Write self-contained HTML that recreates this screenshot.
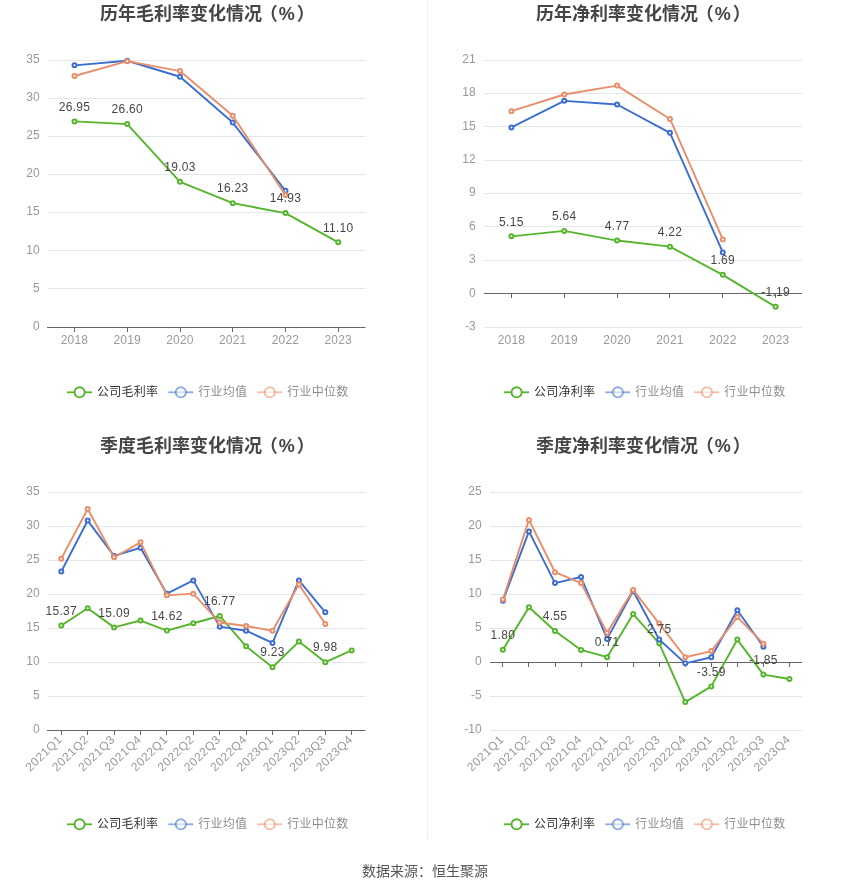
<!DOCTYPE html>
<html lang="zh-CN">
<head>
<meta charset="utf-8">
<title>毛利率与净利率变化情况</title>
<style>
html,body{margin:0;padding:0;background:#fff;}
body{width:850px;height:891px;overflow:hidden;font-family:"Liberation Sans","Noto Sans CJK SC",sans-serif;}
svg{display:block;font-family:"Liberation Sans","Noto Sans CJK SC",sans-serif;}
</style>
</head>
<body>
<svg width="850" height="891" viewBox="0 0 850 891">
<rect width="850" height="891" fill="#ffffff"/>
<line x1="427.5" x2="427.5" y1="0" y2="839" stroke="#f0f0f0" stroke-width="1"/>
<text x="207.4" y="20" text-anchor="middle" font-size="18" font-weight="bold" fill="#464646">历年毛利率变化情况<tspan dx="-2.2">（</tspan><tspan dx="0.9">%</tspan><tspan dx="2.1">）</tspan></text>
<text x="39.7" y="329.9" text-anchor="end" font-size="12" fill="#999999">0</text>
<line x1="48" x2="365.5" y1="288.5" y2="288.5" stroke="#e4e6e9" stroke-width="1"/>
<text x="39.7" y="291.76" text-anchor="end" font-size="12" fill="#999999">5</text>
<line x1="48" x2="365.5" y1="250.5" y2="250.5" stroke="#e4e6e9" stroke-width="1"/>
<text x="39.7" y="253.61" text-anchor="end" font-size="12" fill="#999999">10</text>
<line x1="48" x2="365.5" y1="212.5" y2="212.5" stroke="#e4e6e9" stroke-width="1"/>
<text x="39.7" y="215.47" text-anchor="end" font-size="12" fill="#999999">15</text>
<line x1="48" x2="365.5" y1="174.5" y2="174.5" stroke="#e4e6e9" stroke-width="1"/>
<text x="39.7" y="177.33" text-anchor="end" font-size="12" fill="#999999">20</text>
<line x1="48" x2="365.5" y1="136.5" y2="136.5" stroke="#e4e6e9" stroke-width="1"/>
<text x="39.7" y="139.19" text-anchor="end" font-size="12" fill="#999999">25</text>
<line x1="48" x2="365.5" y1="98.5" y2="98.5" stroke="#e4e6e9" stroke-width="1"/>
<text x="39.7" y="101.04" text-anchor="end" font-size="12" fill="#999999">30</text>
<line x1="48" x2="365.5" y1="60.5" y2="60.5" stroke="#e4e6e9" stroke-width="1"/>
<text x="39.7" y="62.9" text-anchor="end" font-size="12" fill="#999999">35</text>
<line x1="47" x2="365.5" y1="327.5" y2="327.5" stroke="#666666" stroke-width="1"/>
<line x1="74.5" x2="74.5" y1="327.5" y2="332" stroke="#666666" stroke-width="1"/>
<line x1="127.5" x2="127.5" y1="327.5" y2="332" stroke="#666666" stroke-width="1"/>
<line x1="180.5" x2="180.5" y1="327.5" y2="332" stroke="#666666" stroke-width="1"/>
<line x1="232.5" x2="232.5" y1="327.5" y2="332" stroke="#666666" stroke-width="1"/>
<line x1="285.5" x2="285.5" y1="327.5" y2="332" stroke="#666666" stroke-width="1"/>
<line x1="338.5" x2="338.5" y1="327.5" y2="332" stroke="#666666" stroke-width="1"/>
<text x="74.5" y="343.7" text-anchor="middle" font-size="12" letter-spacing="0.2" fill="#999999">2018</text>
<text x="127.25" y="343.7" text-anchor="middle" font-size="12" letter-spacing="0.2" fill="#999999">2019</text>
<text x="180" y="343.7" text-anchor="middle" font-size="12" letter-spacing="0.2" fill="#999999">2020</text>
<text x="232.75" y="343.7" text-anchor="middle" font-size="12" letter-spacing="0.2" fill="#999999">2021</text>
<text x="285.5" y="343.7" text-anchor="middle" font-size="12" letter-spacing="0.2" fill="#999999">2022</text>
<text x="338.25" y="343.7" text-anchor="middle" font-size="12" letter-spacing="0.2" fill="#999999">2023</text>
<polyline fill="none" stroke="#56b52d" stroke-width="1.9" stroke-linejoin="bevel" points="74.5,121.41 127.25,124.08 180,181.83 232.75,203.19 285.5,213.11 338.25,242.32"/>
<circle cx="74.5" cy="121.41" r="2" fill="#fff" stroke="#56b52d" stroke-width="2"/>
<circle cx="127.25" cy="124.08" r="2" fill="#fff" stroke="#56b52d" stroke-width="2"/>
<circle cx="180" cy="181.83" r="2" fill="#fff" stroke="#56b52d" stroke-width="2"/>
<circle cx="232.75" cy="203.19" r="2" fill="#fff" stroke="#56b52d" stroke-width="2"/>
<circle cx="285.5" cy="213.11" r="2" fill="#fff" stroke="#56b52d" stroke-width="2"/>
<circle cx="338.25" cy="242.32" r="2" fill="#fff" stroke="#56b52d" stroke-width="2"/>
<polyline fill="none" stroke="#3d6ecd" stroke-width="1.9" stroke-linejoin="bevel" points="74.5,65.34 127.25,60.76 180,76.78 232.75,122.55 285.5,190.83"/>
<circle cx="74.5" cy="65.34" r="2" fill="#fff" stroke="#3d6ecd" stroke-width="2"/>
<circle cx="127.25" cy="60.76" r="2" fill="#fff" stroke="#3d6ecd" stroke-width="2"/>
<circle cx="180" cy="76.78" r="2" fill="#fff" stroke="#3d6ecd" stroke-width="2"/>
<circle cx="232.75" cy="122.55" r="2" fill="#fff" stroke="#3d6ecd" stroke-width="2"/>
<circle cx="285.5" cy="190.83" r="2" fill="#fff" stroke="#3d6ecd" stroke-width="2"/>
<polyline fill="none" stroke="#e88e6a" stroke-width="1.9" stroke-linejoin="bevel" points="74.5,76.02 127.25,61.14 180,71.06 232.75,115.69 285.5,195.03"/>
<circle cx="74.5" cy="76.02" r="2" fill="#fff" stroke="#e88e6a" stroke-width="2"/>
<circle cx="127.25" cy="61.14" r="2" fill="#fff" stroke="#e88e6a" stroke-width="2"/>
<circle cx="180" cy="71.06" r="2" fill="#fff" stroke="#e88e6a" stroke-width="2"/>
<circle cx="232.75" cy="115.69" r="2" fill="#fff" stroke="#e88e6a" stroke-width="2"/>
<circle cx="285.5" cy="195.03" r="2" fill="#fff" stroke="#e88e6a" stroke-width="2"/>
<text x="74.5" y="110.61" text-anchor="middle" font-size="12" letter-spacing="0.3" fill="#464646">26.95</text>
<text x="127.25" y="113.28" text-anchor="middle" font-size="12" letter-spacing="0.3" fill="#464646">26.60</text>
<text x="180" y="171.03" text-anchor="middle" font-size="12" letter-spacing="0.3" fill="#464646">19.03</text>
<text x="232.75" y="192.39" text-anchor="middle" font-size="12" letter-spacing="0.3" fill="#464646">16.23</text>
<text x="285.5" y="202.31" text-anchor="middle" font-size="12" letter-spacing="0.3" fill="#464646">14.93</text>
<text x="338.25" y="231.52" text-anchor="middle" font-size="12" letter-spacing="0.3" fill="#464646">11.10</text>
<g><line x1="67" x2="92" y1="392.3" y2="392.3" stroke="#56b52d" stroke-opacity="1" stroke-width="1.8"/><circle cx="79.6" cy="392.3" r="5.1" fill="#fff" fill-opacity="1" stroke="#56b52d" stroke-opacity="1" stroke-width="1.9"/></g>
<text x="97" y="395.7" font-size="12" letter-spacing="0.25" fill="#333333">公司毛利率</text>
<g><line x1="168.25" x2="193.25" y1="392.3" y2="392.3" stroke="#3d6ecd" stroke-opacity="0.58" stroke-width="1.8"/><circle cx="180.85" cy="392.3" r="5.1" fill="#fff" fill-opacity="0.58" stroke="#3d6ecd" stroke-opacity="0.58" stroke-width="1.9"/></g>
<text x="198.25" y="395.7" font-size="12" letter-spacing="0.25" fill="#8e8e8e">行业均值</text>
<g><line x1="257.25" x2="282.25" y1="392.3" y2="392.3" stroke="#e88e6a" stroke-opacity="0.58" stroke-width="1.8"/><circle cx="269.85" cy="392.3" r="5.1" fill="#fff" fill-opacity="0.58" stroke="#e88e6a" stroke-opacity="0.58" stroke-width="1.9"/></g>
<text x="287.25" y="395.7" font-size="12" letter-spacing="0.25" fill="#8e8e8e">行业中位数</text>
<text x="643.4" y="20" text-anchor="middle" font-size="18" font-weight="bold" fill="#464646">历年净利率变化情况<tspan dx="-2.2">（</tspan><tspan dx="0.9">%</tspan><tspan dx="2.1">）</tspan></text>
<line x1="484" x2="802" y1="327.5" y2="327.5" stroke="#e4e6e9" stroke-width="1"/>
<text x="475.7" y="329.9" text-anchor="end" font-size="12" fill="#999999">-3</text>
<text x="475.7" y="296.52" text-anchor="end" font-size="12" fill="#999999">0</text>
<line x1="484" x2="802" y1="260.5" y2="260.5" stroke="#e4e6e9" stroke-width="1"/>
<text x="475.7" y="263.15" text-anchor="end" font-size="12" fill="#999999">3</text>
<line x1="484" x2="802" y1="226.5" y2="226.5" stroke="#e4e6e9" stroke-width="1"/>
<text x="475.7" y="229.78" text-anchor="end" font-size="12" fill="#999999">6</text>
<line x1="484" x2="802" y1="193.5" y2="193.5" stroke="#e4e6e9" stroke-width="1"/>
<text x="475.7" y="196.4" text-anchor="end" font-size="12" fill="#999999">9</text>
<line x1="484" x2="802" y1="160.5" y2="160.5" stroke="#e4e6e9" stroke-width="1"/>
<text x="475.7" y="163.03" text-anchor="end" font-size="12" fill="#999999">12</text>
<line x1="484" x2="802" y1="126.5" y2="126.5" stroke="#e4e6e9" stroke-width="1"/>
<text x="475.7" y="129.65" text-anchor="end" font-size="12" fill="#999999">15</text>
<line x1="484" x2="802" y1="93.5" y2="93.5" stroke="#e4e6e9" stroke-width="1"/>
<text x="475.7" y="96.28" text-anchor="end" font-size="12" fill="#999999">18</text>
<line x1="484" x2="802" y1="60.5" y2="60.5" stroke="#e4e6e9" stroke-width="1"/>
<text x="475.7" y="62.9" text-anchor="end" font-size="12" fill="#999999">21</text>
<line x1="484" x2="802" y1="293.5" y2="293.5" stroke="#666666" stroke-width="1"/>
<line x1="511.5" x2="511.5" y1="293.5" y2="298" stroke="#666666" stroke-width="1"/>
<line x1="564.5" x2="564.5" y1="293.5" y2="298" stroke="#666666" stroke-width="1"/>
<line x1="617.5" x2="617.5" y1="293.5" y2="298" stroke="#666666" stroke-width="1"/>
<line x1="669.5" x2="669.5" y1="293.5" y2="298" stroke="#666666" stroke-width="1"/>
<line x1="722.5" x2="722.5" y1="293.5" y2="298" stroke="#666666" stroke-width="1"/>
<line x1="775.5" x2="775.5" y1="293.5" y2="298" stroke="#666666" stroke-width="1"/>
<text x="511.4" y="343.7" text-anchor="middle" font-size="12" letter-spacing="0.2" fill="#999999">2018</text>
<text x="564.25" y="343.7" text-anchor="middle" font-size="12" letter-spacing="0.2" fill="#999999">2019</text>
<text x="617.1" y="343.7" text-anchor="middle" font-size="12" letter-spacing="0.2" fill="#999999">2020</text>
<text x="669.95" y="343.7" text-anchor="middle" font-size="12" letter-spacing="0.2" fill="#999999">2021</text>
<text x="722.8" y="343.7" text-anchor="middle" font-size="12" letter-spacing="0.2" fill="#999999">2022</text>
<text x="775.65" y="343.7" text-anchor="middle" font-size="12" letter-spacing="0.2" fill="#999999">2023</text>
<polyline fill="none" stroke="#56b52d" stroke-width="1.9" stroke-linejoin="bevel" points="511.4,236.33 564.25,230.88 617.1,240.56 669.95,246.68 722.8,274.82 775.65,306.86"/>
<circle cx="511.4" cy="236.33" r="2" fill="#fff" stroke="#56b52d" stroke-width="2"/>
<circle cx="564.25" cy="230.88" r="2" fill="#fff" stroke="#56b52d" stroke-width="2"/>
<circle cx="617.1" cy="240.56" r="2" fill="#fff" stroke="#56b52d" stroke-width="2"/>
<circle cx="669.95" cy="246.68" r="2" fill="#fff" stroke="#56b52d" stroke-width="2"/>
<circle cx="722.8" cy="274.82" r="2" fill="#fff" stroke="#56b52d" stroke-width="2"/>
<circle cx="775.65" cy="306.86" r="2" fill="#fff" stroke="#56b52d" stroke-width="2"/>
<polyline fill="none" stroke="#3d6ecd" stroke-width="1.9" stroke-linejoin="bevel" points="511.4,127.42 564.25,100.83 617.1,104.5 669.95,132.87 722.8,252.46"/>
<circle cx="511.4" cy="127.42" r="2" fill="#fff" stroke="#3d6ecd" stroke-width="2"/>
<circle cx="564.25" cy="100.83" r="2" fill="#fff" stroke="#3d6ecd" stroke-width="2"/>
<circle cx="617.1" cy="104.5" r="2" fill="#fff" stroke="#3d6ecd" stroke-width="2"/>
<circle cx="669.95" cy="132.87" r="2" fill="#fff" stroke="#3d6ecd" stroke-width="2"/>
<circle cx="722.8" cy="252.46" r="2" fill="#fff" stroke="#3d6ecd" stroke-width="2"/>
<polyline fill="none" stroke="#e88e6a" stroke-width="1.9" stroke-linejoin="bevel" points="511.4,111.18 564.25,94.49 617.1,85.59 669.95,118.96 722.8,239.45"/>
<circle cx="511.4" cy="111.18" r="2" fill="#fff" stroke="#e88e6a" stroke-width="2"/>
<circle cx="564.25" cy="94.49" r="2" fill="#fff" stroke="#e88e6a" stroke-width="2"/>
<circle cx="617.1" cy="85.59" r="2" fill="#fff" stroke="#e88e6a" stroke-width="2"/>
<circle cx="669.95" cy="118.96" r="2" fill="#fff" stroke="#e88e6a" stroke-width="2"/>
<circle cx="722.8" cy="239.45" r="2" fill="#fff" stroke="#e88e6a" stroke-width="2"/>
<text x="511.4" y="225.53" text-anchor="middle" font-size="12" letter-spacing="0.3" fill="#464646">5.15</text>
<text x="564.25" y="220.08" text-anchor="middle" font-size="12" letter-spacing="0.3" fill="#464646">5.64</text>
<text x="617.1" y="229.76" text-anchor="middle" font-size="12" letter-spacing="0.3" fill="#464646">4.77</text>
<text x="669.95" y="235.88" text-anchor="middle" font-size="12" letter-spacing="0.3" fill="#464646">4.22</text>
<text x="722.8" y="264.02" text-anchor="middle" font-size="12" letter-spacing="0.3" fill="#464646">1.69</text>
<text x="775.65" y="296.06" text-anchor="middle" font-size="12" letter-spacing="0.3" fill="#464646">-1.19</text>
<g><line x1="504" x2="529" y1="392.3" y2="392.3" stroke="#56b52d" stroke-opacity="1" stroke-width="1.8"/><circle cx="516.6" cy="392.3" r="5.1" fill="#fff" fill-opacity="1" stroke="#56b52d" stroke-opacity="1" stroke-width="1.9"/></g>
<text x="534" y="395.7" font-size="12" letter-spacing="0.25" fill="#333333">公司净利率</text>
<g><line x1="605.25" x2="630.25" y1="392.3" y2="392.3" stroke="#3d6ecd" stroke-opacity="0.58" stroke-width="1.8"/><circle cx="617.85" cy="392.3" r="5.1" fill="#fff" fill-opacity="0.58" stroke="#3d6ecd" stroke-opacity="0.58" stroke-width="1.9"/></g>
<text x="635.25" y="395.7" font-size="12" letter-spacing="0.25" fill="#8e8e8e">行业均值</text>
<g><line x1="694.25" x2="719.25" y1="392.3" y2="392.3" stroke="#e88e6a" stroke-opacity="0.58" stroke-width="1.8"/><circle cx="706.85" cy="392.3" r="5.1" fill="#fff" fill-opacity="0.58" stroke="#e88e6a" stroke-opacity="0.58" stroke-width="1.9"/></g>
<text x="724.25" y="395.7" font-size="12" letter-spacing="0.25" fill="#8e8e8e">行业中位数</text>
<text x="207.4" y="452" text-anchor="middle" font-size="18" font-weight="bold" fill="#464646">季度毛利率变化情况<tspan dx="-2.2">（</tspan><tspan dx="0.9">%</tspan><tspan dx="2.1">）</tspan></text>
<text x="39.7" y="732.9" text-anchor="end" font-size="12" fill="#999999">0</text>
<line x1="48" x2="365.4" y1="696.5" y2="696.5" stroke="#e4e6e9" stroke-width="1"/>
<text x="39.7" y="698.9" text-anchor="end" font-size="12" fill="#999999">5</text>
<line x1="48" x2="365.4" y1="662.5" y2="662.5" stroke="#e4e6e9" stroke-width="1"/>
<text x="39.7" y="664.9" text-anchor="end" font-size="12" fill="#999999">10</text>
<line x1="48" x2="365.4" y1="628.5" y2="628.5" stroke="#e4e6e9" stroke-width="1"/>
<text x="39.7" y="630.9" text-anchor="end" font-size="12" fill="#999999">15</text>
<line x1="48" x2="365.4" y1="594.5" y2="594.5" stroke="#e4e6e9" stroke-width="1"/>
<text x="39.7" y="596.9" text-anchor="end" font-size="12" fill="#999999">20</text>
<line x1="48" x2="365.4" y1="560.5" y2="560.5" stroke="#e4e6e9" stroke-width="1"/>
<text x="39.7" y="562.9" text-anchor="end" font-size="12" fill="#999999">25</text>
<line x1="48" x2="365.4" y1="526.5" y2="526.5" stroke="#e4e6e9" stroke-width="1"/>
<text x="39.7" y="528.9" text-anchor="end" font-size="12" fill="#999999">30</text>
<line x1="48" x2="365.4" y1="492.5" y2="492.5" stroke="#e4e6e9" stroke-width="1"/>
<text x="39.7" y="494.9" text-anchor="end" font-size="12" fill="#999999">35</text>
<line x1="47" x2="365.4" y1="730.5" y2="730.5" stroke="#666666" stroke-width="1"/>
<line x1="61.5" x2="61.5" y1="730.5" y2="735" stroke="#666666" stroke-width="1"/>
<line x1="87.5" x2="87.5" y1="730.5" y2="735" stroke="#666666" stroke-width="1"/>
<line x1="114.5" x2="114.5" y1="730.5" y2="735" stroke="#666666" stroke-width="1"/>
<line x1="140.5" x2="140.5" y1="730.5" y2="735" stroke="#666666" stroke-width="1"/>
<line x1="166.5" x2="166.5" y1="730.5" y2="735" stroke="#666666" stroke-width="1"/>
<line x1="193.5" x2="193.5" y1="730.5" y2="735" stroke="#666666" stroke-width="1"/>
<line x1="219.5" x2="219.5" y1="730.5" y2="735" stroke="#666666" stroke-width="1"/>
<line x1="246.5" x2="246.5" y1="730.5" y2="735" stroke="#666666" stroke-width="1"/>
<line x1="272.5" x2="272.5" y1="730.5" y2="735" stroke="#666666" stroke-width="1"/>
<line x1="298.5" x2="298.5" y1="730.5" y2="735" stroke="#666666" stroke-width="1"/>
<line x1="325.5" x2="325.5" y1="730.5" y2="735" stroke="#666666" stroke-width="1"/>
<line x1="351.5" x2="351.5" y1="730.5" y2="735" stroke="#666666" stroke-width="1"/>
<text transform="translate(59.6,737.6) rotate(-44)" text-anchor="end" y="4.3" textLength="45" lengthAdjust="spacing" font-size="12" fill="#999999">2021Q1</text>
<text transform="translate(86,737.6) rotate(-44)" text-anchor="end" y="4.3" textLength="45" lengthAdjust="spacing" font-size="12" fill="#999999">2021Q2</text>
<text transform="translate(112.4,737.6) rotate(-44)" text-anchor="end" y="4.3" textLength="45" lengthAdjust="spacing" font-size="12" fill="#999999">2021Q3</text>
<text transform="translate(138.8,737.6) rotate(-44)" text-anchor="end" y="4.3" textLength="45" lengthAdjust="spacing" font-size="12" fill="#999999">2021Q4</text>
<text transform="translate(165.2,737.6) rotate(-44)" text-anchor="end" y="4.3" textLength="45" lengthAdjust="spacing" font-size="12" fill="#999999">2022Q1</text>
<text transform="translate(191.6,737.6) rotate(-44)" text-anchor="end" y="4.3" textLength="45" lengthAdjust="spacing" font-size="12" fill="#999999">2022Q2</text>
<text transform="translate(218,737.6) rotate(-44)" text-anchor="end" y="4.3" textLength="45" lengthAdjust="spacing" font-size="12" fill="#999999">2022Q3</text>
<text transform="translate(244.4,737.6) rotate(-44)" text-anchor="end" y="4.3" textLength="45" lengthAdjust="spacing" font-size="12" fill="#999999">2022Q4</text>
<text transform="translate(270.8,737.6) rotate(-44)" text-anchor="end" y="4.3" textLength="45" lengthAdjust="spacing" font-size="12" fill="#999999">2023Q1</text>
<text transform="translate(297.2,737.6) rotate(-44)" text-anchor="end" y="4.3" textLength="45" lengthAdjust="spacing" font-size="12" fill="#999999">2023Q2</text>
<text transform="translate(323.6,737.6) rotate(-44)" text-anchor="end" y="4.3" textLength="45" lengthAdjust="spacing" font-size="12" fill="#999999">2023Q3</text>
<text transform="translate(350,737.6) rotate(-44)" text-anchor="end" y="4.3" textLength="45" lengthAdjust="spacing" font-size="12" fill="#999999">2023Q4</text>
<polyline fill="none" stroke="#56b52d" stroke-width="1.9" stroke-linejoin="bevel" points="61.3,625.48 87.7,608.28 114.1,627.39 140.5,620.52 166.9,630.58 193.3,623.24 219.7,615.96 246.1,646.36 272.5,667.24 298.9,641.6 325.3,662.14 351.7,650.44"/>
<circle cx="61.3" cy="625.48" r="2" fill="#fff" stroke="#56b52d" stroke-width="2"/>
<circle cx="87.7" cy="608.28" r="2" fill="#fff" stroke="#56b52d" stroke-width="2"/>
<circle cx="114.1" cy="627.39" r="2" fill="#fff" stroke="#56b52d" stroke-width="2"/>
<circle cx="140.5" cy="620.52" r="2" fill="#fff" stroke="#56b52d" stroke-width="2"/>
<circle cx="166.9" cy="630.58" r="2" fill="#fff" stroke="#56b52d" stroke-width="2"/>
<circle cx="193.3" cy="623.24" r="2" fill="#fff" stroke="#56b52d" stroke-width="2"/>
<circle cx="219.7" cy="615.96" r="2" fill="#fff" stroke="#56b52d" stroke-width="2"/>
<circle cx="246.1" cy="646.36" r="2" fill="#fff" stroke="#56b52d" stroke-width="2"/>
<circle cx="272.5" cy="667.24" r="2" fill="#fff" stroke="#56b52d" stroke-width="2"/>
<circle cx="298.9" cy="641.6" r="2" fill="#fff" stroke="#56b52d" stroke-width="2"/>
<circle cx="325.3" cy="662.14" r="2" fill="#fff" stroke="#56b52d" stroke-width="2"/>
<circle cx="351.7" cy="650.44" r="2" fill="#fff" stroke="#56b52d" stroke-width="2"/>
<polyline fill="none" stroke="#3d6ecd" stroke-width="1.9" stroke-linejoin="bevel" points="61.3,571.56 87.7,520.56 114.1,555.92 140.5,547.76 166.9,593.66 193.3,580.4 219.7,626.64 246.1,630.72 272.5,642.96 298.9,580.4 325.3,612.36"/>
<circle cx="61.3" cy="571.56" r="2" fill="#fff" stroke="#3d6ecd" stroke-width="2"/>
<circle cx="87.7" cy="520.56" r="2" fill="#fff" stroke="#3d6ecd" stroke-width="2"/>
<circle cx="114.1" cy="555.92" r="2" fill="#fff" stroke="#3d6ecd" stroke-width="2"/>
<circle cx="140.5" cy="547.76" r="2" fill="#fff" stroke="#3d6ecd" stroke-width="2"/>
<circle cx="166.9" cy="593.66" r="2" fill="#fff" stroke="#3d6ecd" stroke-width="2"/>
<circle cx="193.3" cy="580.4" r="2" fill="#fff" stroke="#3d6ecd" stroke-width="2"/>
<circle cx="219.7" cy="626.64" r="2" fill="#fff" stroke="#3d6ecd" stroke-width="2"/>
<circle cx="246.1" cy="630.72" r="2" fill="#fff" stroke="#3d6ecd" stroke-width="2"/>
<circle cx="272.5" cy="642.96" r="2" fill="#fff" stroke="#3d6ecd" stroke-width="2"/>
<circle cx="298.9" cy="580.4" r="2" fill="#fff" stroke="#3d6ecd" stroke-width="2"/>
<circle cx="325.3" cy="612.36" r="2" fill="#fff" stroke="#3d6ecd" stroke-width="2"/>
<polyline fill="none" stroke="#e88e6a" stroke-width="1.9" stroke-linejoin="bevel" points="61.3,558.64 87.7,509 114.1,557.28 140.5,542.32 166.9,595.36 193.3,593.66 219.7,622.56 246.1,625.96 272.5,630.72 298.9,584.48 325.3,623.92"/>
<circle cx="61.3" cy="558.64" r="2" fill="#fff" stroke="#e88e6a" stroke-width="2"/>
<circle cx="87.7" cy="509" r="2" fill="#fff" stroke="#e88e6a" stroke-width="2"/>
<circle cx="114.1" cy="557.28" r="2" fill="#fff" stroke="#e88e6a" stroke-width="2"/>
<circle cx="140.5" cy="542.32" r="2" fill="#fff" stroke="#e88e6a" stroke-width="2"/>
<circle cx="166.9" cy="595.36" r="2" fill="#fff" stroke="#e88e6a" stroke-width="2"/>
<circle cx="193.3" cy="593.66" r="2" fill="#fff" stroke="#e88e6a" stroke-width="2"/>
<circle cx="219.7" cy="622.56" r="2" fill="#fff" stroke="#e88e6a" stroke-width="2"/>
<circle cx="246.1" cy="625.96" r="2" fill="#fff" stroke="#e88e6a" stroke-width="2"/>
<circle cx="272.5" cy="630.72" r="2" fill="#fff" stroke="#e88e6a" stroke-width="2"/>
<circle cx="298.9" cy="584.48" r="2" fill="#fff" stroke="#e88e6a" stroke-width="2"/>
<circle cx="325.3" cy="623.92" r="2" fill="#fff" stroke="#e88e6a" stroke-width="2"/>
<text x="61.3" y="614.68" text-anchor="middle" font-size="12" letter-spacing="0.3" fill="#464646">15.37</text>
<text x="114.1" y="616.59" text-anchor="middle" font-size="12" letter-spacing="0.3" fill="#464646">15.09</text>
<text x="166.9" y="619.78" text-anchor="middle" font-size="12" letter-spacing="0.3" fill="#464646">14.62</text>
<text x="219.7" y="605.16" text-anchor="middle" font-size="12" letter-spacing="0.3" fill="#464646">16.77</text>
<text x="272.5" y="656.44" text-anchor="middle" font-size="12" letter-spacing="0.3" fill="#464646">9.23</text>
<text x="325.3" y="651.34" text-anchor="middle" font-size="12" letter-spacing="0.3" fill="#464646">9.98</text>
<g><line x1="67" x2="92" y1="824.3" y2="824.3" stroke="#56b52d" stroke-opacity="1" stroke-width="1.8"/><circle cx="79.6" cy="824.3" r="5.1" fill="#fff" fill-opacity="1" stroke="#56b52d" stroke-opacity="1" stroke-width="1.9"/></g>
<text x="97" y="827.7" font-size="12" letter-spacing="0.25" fill="#333333">公司毛利率</text>
<g><line x1="168.25" x2="193.25" y1="824.3" y2="824.3" stroke="#3d6ecd" stroke-opacity="0.58" stroke-width="1.8"/><circle cx="180.85" cy="824.3" r="5.1" fill="#fff" fill-opacity="0.58" stroke="#3d6ecd" stroke-opacity="0.58" stroke-width="1.9"/></g>
<text x="198.25" y="827.7" font-size="12" letter-spacing="0.25" fill="#8e8e8e">行业均值</text>
<g><line x1="257.25" x2="282.25" y1="824.3" y2="824.3" stroke="#e88e6a" stroke-opacity="0.58" stroke-width="1.8"/><circle cx="269.85" cy="824.3" r="5.1" fill="#fff" fill-opacity="0.58" stroke="#e88e6a" stroke-opacity="0.58" stroke-width="1.9"/></g>
<text x="287.25" y="827.7" font-size="12" letter-spacing="0.25" fill="#8e8e8e">行业中位数</text>
<text x="643.4" y="452" text-anchor="middle" font-size="18" font-weight="bold" fill="#464646">季度净利率变化情况<tspan dx="-2.2">（</tspan><tspan dx="0.9">%</tspan><tspan dx="2.1">）</tspan></text>
<line x1="490" x2="802.3" y1="730.5" y2="730.5" stroke="#e4e6e9" stroke-width="1"/>
<text x="481.7" y="732.9" text-anchor="end" font-size="12" fill="#999999">-10</text>
<line x1="490" x2="802.3" y1="696.5" y2="696.5" stroke="#e4e6e9" stroke-width="1"/>
<text x="481.7" y="698.9" text-anchor="end" font-size="12" fill="#999999">-5</text>
<text x="481.7" y="664.9" text-anchor="end" font-size="12" fill="#999999">0</text>
<line x1="490" x2="802.3" y1="628.5" y2="628.5" stroke="#e4e6e9" stroke-width="1"/>
<text x="481.7" y="630.9" text-anchor="end" font-size="12" fill="#999999">5</text>
<line x1="490" x2="802.3" y1="594.5" y2="594.5" stroke="#e4e6e9" stroke-width="1"/>
<text x="481.7" y="596.9" text-anchor="end" font-size="12" fill="#999999">10</text>
<line x1="490" x2="802.3" y1="560.5" y2="560.5" stroke="#e4e6e9" stroke-width="1"/>
<text x="481.7" y="562.9" text-anchor="end" font-size="12" fill="#999999">15</text>
<line x1="490" x2="802.3" y1="526.5" y2="526.5" stroke="#e4e6e9" stroke-width="1"/>
<text x="481.7" y="528.9" text-anchor="end" font-size="12" fill="#999999">20</text>
<line x1="490" x2="802.3" y1="492.5" y2="492.5" stroke="#e4e6e9" stroke-width="1"/>
<text x="481.7" y="494.9" text-anchor="end" font-size="12" fill="#999999">25</text>
<line x1="490" x2="802.3" y1="662.5" y2="662.5" stroke="#666666" stroke-width="1"/>
<line x1="502.5" x2="502.5" y1="662.5" y2="667" stroke="#666666" stroke-width="1"/>
<line x1="528.5" x2="528.5" y1="662.5" y2="667" stroke="#666666" stroke-width="1"/>
<line x1="555.5" x2="555.5" y1="662.5" y2="667" stroke="#666666" stroke-width="1"/>
<line x1="581.5" x2="581.5" y1="662.5" y2="667" stroke="#666666" stroke-width="1"/>
<line x1="607.5" x2="607.5" y1="662.5" y2="667" stroke="#666666" stroke-width="1"/>
<line x1="633.5" x2="633.5" y1="662.5" y2="667" stroke="#666666" stroke-width="1"/>
<line x1="659.5" x2="659.5" y1="662.5" y2="667" stroke="#666666" stroke-width="1"/>
<line x1="685.5" x2="685.5" y1="662.5" y2="667" stroke="#666666" stroke-width="1"/>
<line x1="711.5" x2="711.5" y1="662.5" y2="667" stroke="#666666" stroke-width="1"/>
<line x1="737.5" x2="737.5" y1="662.5" y2="667" stroke="#666666" stroke-width="1"/>
<line x1="763.5" x2="763.5" y1="662.5" y2="667" stroke="#666666" stroke-width="1"/>
<line x1="789.5" x2="789.5" y1="662.5" y2="667" stroke="#666666" stroke-width="1"/>
<text transform="translate(501.2,737.6) rotate(-44)" text-anchor="end" y="4.3" textLength="45" lengthAdjust="spacing" font-size="12" fill="#999999">2021Q1</text>
<text transform="translate(527.25,737.6) rotate(-44)" text-anchor="end" y="4.3" textLength="45" lengthAdjust="spacing" font-size="12" fill="#999999">2021Q2</text>
<text transform="translate(553.3,737.6) rotate(-44)" text-anchor="end" y="4.3" textLength="45" lengthAdjust="spacing" font-size="12" fill="#999999">2021Q3</text>
<text transform="translate(579.35,737.6) rotate(-44)" text-anchor="end" y="4.3" textLength="45" lengthAdjust="spacing" font-size="12" fill="#999999">2021Q4</text>
<text transform="translate(605.4,737.6) rotate(-44)" text-anchor="end" y="4.3" textLength="45" lengthAdjust="spacing" font-size="12" fill="#999999">2022Q1</text>
<text transform="translate(631.45,737.6) rotate(-44)" text-anchor="end" y="4.3" textLength="45" lengthAdjust="spacing" font-size="12" fill="#999999">2022Q2</text>
<text transform="translate(657.5,737.6) rotate(-44)" text-anchor="end" y="4.3" textLength="45" lengthAdjust="spacing" font-size="12" fill="#999999">2022Q3</text>
<text transform="translate(683.55,737.6) rotate(-44)" text-anchor="end" y="4.3" textLength="45" lengthAdjust="spacing" font-size="12" fill="#999999">2022Q4</text>
<text transform="translate(709.6,737.6) rotate(-44)" text-anchor="end" y="4.3" textLength="45" lengthAdjust="spacing" font-size="12" fill="#999999">2023Q1</text>
<text transform="translate(735.65,737.6) rotate(-44)" text-anchor="end" y="4.3" textLength="45" lengthAdjust="spacing" font-size="12" fill="#999999">2023Q2</text>
<text transform="translate(761.7,737.6) rotate(-44)" text-anchor="end" y="4.3" textLength="45" lengthAdjust="spacing" font-size="12" fill="#999999">2023Q3</text>
<text transform="translate(787.75,737.6) rotate(-44)" text-anchor="end" y="4.3" textLength="45" lengthAdjust="spacing" font-size="12" fill="#999999">2023Q4</text>
<polyline fill="none" stroke="#56b52d" stroke-width="1.9" stroke-linejoin="bevel" points="502.9,649.76 528.95,607.26 555,631.06 581.05,649.9 607.1,657.17 633.15,614.06 659.2,643.3 685.25,702.12 711.3,686.41 737.35,639.56 763.4,674.58 789.45,679"/>
<circle cx="502.9" cy="649.76" r="2" fill="#fff" stroke="#56b52d" stroke-width="2"/>
<circle cx="528.95" cy="607.26" r="2" fill="#fff" stroke="#56b52d" stroke-width="2"/>
<circle cx="555" cy="631.06" r="2" fill="#fff" stroke="#56b52d" stroke-width="2"/>
<circle cx="581.05" cy="649.9" r="2" fill="#fff" stroke="#56b52d" stroke-width="2"/>
<circle cx="607.1" cy="657.17" r="2" fill="#fff" stroke="#56b52d" stroke-width="2"/>
<circle cx="633.15" cy="614.06" r="2" fill="#fff" stroke="#56b52d" stroke-width="2"/>
<circle cx="659.2" cy="643.3" r="2" fill="#fff" stroke="#56b52d" stroke-width="2"/>
<circle cx="685.25" cy="702.12" r="2" fill="#fff" stroke="#56b52d" stroke-width="2"/>
<circle cx="711.3" cy="686.41" r="2" fill="#fff" stroke="#56b52d" stroke-width="2"/>
<circle cx="737.35" cy="639.56" r="2" fill="#fff" stroke="#56b52d" stroke-width="2"/>
<circle cx="763.4" cy="674.58" r="2" fill="#fff" stroke="#56b52d" stroke-width="2"/>
<circle cx="789.45" cy="679" r="2" fill="#fff" stroke="#56b52d" stroke-width="2"/>
<polyline fill="none" stroke="#3d6ecd" stroke-width="1.9" stroke-linejoin="bevel" points="502.9,600.8 528.95,531.44 555,583.12 581.05,577 607.1,638.88 633.15,590.94 659.2,639.56 685.25,663.36 711.3,657.24 737.35,610.32 763.4,646.7"/>
<circle cx="502.9" cy="600.8" r="2" fill="#fff" stroke="#3d6ecd" stroke-width="2"/>
<circle cx="528.95" cy="531.44" r="2" fill="#fff" stroke="#3d6ecd" stroke-width="2"/>
<circle cx="555" cy="583.12" r="2" fill="#fff" stroke="#3d6ecd" stroke-width="2"/>
<circle cx="581.05" cy="577" r="2" fill="#fff" stroke="#3d6ecd" stroke-width="2"/>
<circle cx="607.1" cy="638.88" r="2" fill="#fff" stroke="#3d6ecd" stroke-width="2"/>
<circle cx="633.15" cy="590.94" r="2" fill="#fff" stroke="#3d6ecd" stroke-width="2"/>
<circle cx="659.2" cy="639.56" r="2" fill="#fff" stroke="#3d6ecd" stroke-width="2"/>
<circle cx="685.25" cy="663.36" r="2" fill="#fff" stroke="#3d6ecd" stroke-width="2"/>
<circle cx="711.3" cy="657.24" r="2" fill="#fff" stroke="#3d6ecd" stroke-width="2"/>
<circle cx="737.35" cy="610.32" r="2" fill="#fff" stroke="#3d6ecd" stroke-width="2"/>
<circle cx="763.4" cy="646.7" r="2" fill="#fff" stroke="#3d6ecd" stroke-width="2"/>
<polyline fill="none" stroke="#e88e6a" stroke-width="1.9" stroke-linejoin="bevel" points="502.9,599.44 528.95,519.88 555,572.24 581.05,583.12 607.1,632.76 633.15,589.92 659.2,623.58 685.25,657.24 711.3,651.12 737.35,617.12 763.4,643.64"/>
<circle cx="502.9" cy="599.44" r="2" fill="#fff" stroke="#e88e6a" stroke-width="2"/>
<circle cx="528.95" cy="519.88" r="2" fill="#fff" stroke="#e88e6a" stroke-width="2"/>
<circle cx="555" cy="572.24" r="2" fill="#fff" stroke="#e88e6a" stroke-width="2"/>
<circle cx="581.05" cy="583.12" r="2" fill="#fff" stroke="#e88e6a" stroke-width="2"/>
<circle cx="607.1" cy="632.76" r="2" fill="#fff" stroke="#e88e6a" stroke-width="2"/>
<circle cx="633.15" cy="589.92" r="2" fill="#fff" stroke="#e88e6a" stroke-width="2"/>
<circle cx="659.2" cy="623.58" r="2" fill="#fff" stroke="#e88e6a" stroke-width="2"/>
<circle cx="685.25" cy="657.24" r="2" fill="#fff" stroke="#e88e6a" stroke-width="2"/>
<circle cx="711.3" cy="651.12" r="2" fill="#fff" stroke="#e88e6a" stroke-width="2"/>
<circle cx="737.35" cy="617.12" r="2" fill="#fff" stroke="#e88e6a" stroke-width="2"/>
<circle cx="763.4" cy="643.64" r="2" fill="#fff" stroke="#e88e6a" stroke-width="2"/>
<text x="502.9" y="638.96" text-anchor="middle" font-size="12" letter-spacing="0.3" fill="#464646">1.80</text>
<text x="555" y="620.26" text-anchor="middle" font-size="12" letter-spacing="0.3" fill="#464646">4.55</text>
<text x="607.1" y="646.37" text-anchor="middle" font-size="12" letter-spacing="0.3" fill="#464646">0.71</text>
<text x="659.2" y="632.5" text-anchor="middle" font-size="12" letter-spacing="0.3" fill="#464646">2.75</text>
<text x="711.3" y="675.61" text-anchor="middle" font-size="12" letter-spacing="0.3" fill="#464646">-3.59</text>
<text x="763.4" y="663.78" text-anchor="middle" font-size="12" letter-spacing="0.3" fill="#464646">-1.85</text>
<g><line x1="504" x2="529" y1="824.3" y2="824.3" stroke="#56b52d" stroke-opacity="1" stroke-width="1.8"/><circle cx="516.6" cy="824.3" r="5.1" fill="#fff" fill-opacity="1" stroke="#56b52d" stroke-opacity="1" stroke-width="1.9"/></g>
<text x="534" y="827.7" font-size="12" letter-spacing="0.25" fill="#333333">公司净利率</text>
<g><line x1="605.25" x2="630.25" y1="824.3" y2="824.3" stroke="#3d6ecd" stroke-opacity="0.58" stroke-width="1.8"/><circle cx="617.85" cy="824.3" r="5.1" fill="#fff" fill-opacity="0.58" stroke="#3d6ecd" stroke-opacity="0.58" stroke-width="1.9"/></g>
<text x="635.25" y="827.7" font-size="12" letter-spacing="0.25" fill="#8e8e8e">行业均值</text>
<g><line x1="694.25" x2="719.25" y1="824.3" y2="824.3" stroke="#e88e6a" stroke-opacity="0.58" stroke-width="1.8"/><circle cx="706.85" cy="824.3" r="5.1" fill="#fff" fill-opacity="0.58" stroke="#e88e6a" stroke-opacity="0.58" stroke-width="1.9"/></g>
<text x="724.25" y="827.7" font-size="12" letter-spacing="0.25" fill="#8e8e8e">行业中位数</text>
<text x="425" y="876" text-anchor="middle" font-size="14" fill="#555555">数据来源：恒生聚源</text>
</svg>
</body>
</html>
